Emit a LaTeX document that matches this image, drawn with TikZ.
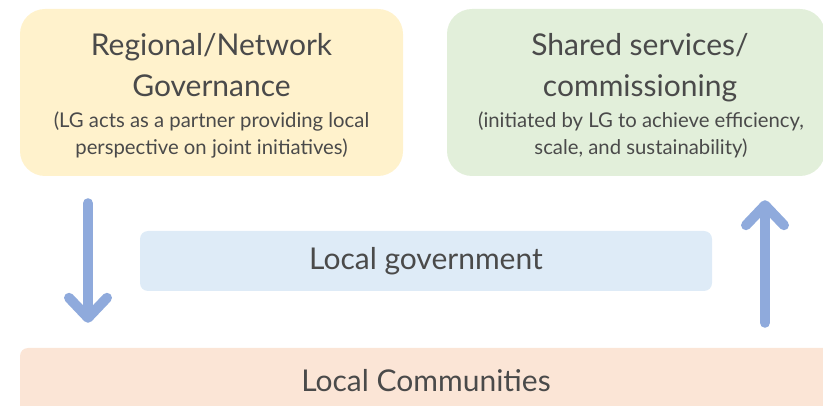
\documentclass[tikz,border=0pt]{standalone}
\usepackage{fontspec}
\setmainfont{Lato}
\usepackage{tikz}
\usetikzlibrary{arrows.meta,positioning,calc}
\definecolor{govyellow}{HTML}{FFF2CC}
\definecolor{shgreen}{HTML}{E2EFDA}
\definecolor{lgblue}{HTML}{DEEBF7}
\definecolor{compeach}{HTML}{FBE5D6}
\definecolor{txtgray}{HTML}{4A4A4A}
\definecolor{flowblue}{HTML}{8FAADC}
\tikzset{
  panel/.style={fill=#1, rounded corners=25pt, align=center, text=txtgray, inner sep=0pt},
  bar/.style={fill=#1, rounded corners=8pt, align=center, text=txtgray, inner sep=0pt},
  head/.style={font=\fontsize{30}{41}\selectfont},
  sub/.style={font=\fontsize{20.3}{27}\selectfont},
  flow/.style={draw=flowblue, line width=10pt, line cap=round,
    -{Straight Barb[length=20pt, width=38pt, round]}}
}
\begin{document}
\begin{tikzpicture}[x=1pt,y=-1pt]
  \useasboundingbox (0,0) rectangle (823,406);
  % top boxes
  \node[panel=govyellow, minimum width=383pt, minimum height=167pt] (regional) at (211.5,92.5) {};
  \node[panel=shgreen, minimum width=378pt, minimum height=167pt] (shared) at (636,92.5) {};
  \node[head, txtgray, align=center, anchor=base] (regtitle) at (211.5,97) {Regional/Network\\Governance};
  \node[sub, txtgray, align=center, anchor=base] (regsub) at (211.5,155) {(LG acts as a partner providing local\\perspective on joint initiatives)};
  \node[head, txtgray, align=center, anchor=base] (shtitle) at (640,97) {Shared services/\\commissioning};
  \node[sub, txtgray, align=center, anchor=base] (shsub) at (641,155) {(initiated by LG to achieve efficiency,\\scale, and sustainability)};
  % middle and bottom bars
  \node[bar=lgblue, minimum width=572pt, minimum height=60pt, head] (lg) at (426,261) {Local government};
  \node[bar=compeach, minimum width=812pt, minimum height=66pt, head] (comm) at (426,381) {Local Communities};
  % arrows
  \coordinate (downx) at (88,0);
  \coordinate (upx) at (765,0);
  \draw[flow, shorten <=27pt, shorten >=25pt] (regional.south -| downx) -- (comm.north -| downx);
  \draw[flow, shorten <=25pt, shorten >=24pt] (comm.north -| upx) -- (shared.south -| upx);
\end{tikzpicture}
\end{document}
